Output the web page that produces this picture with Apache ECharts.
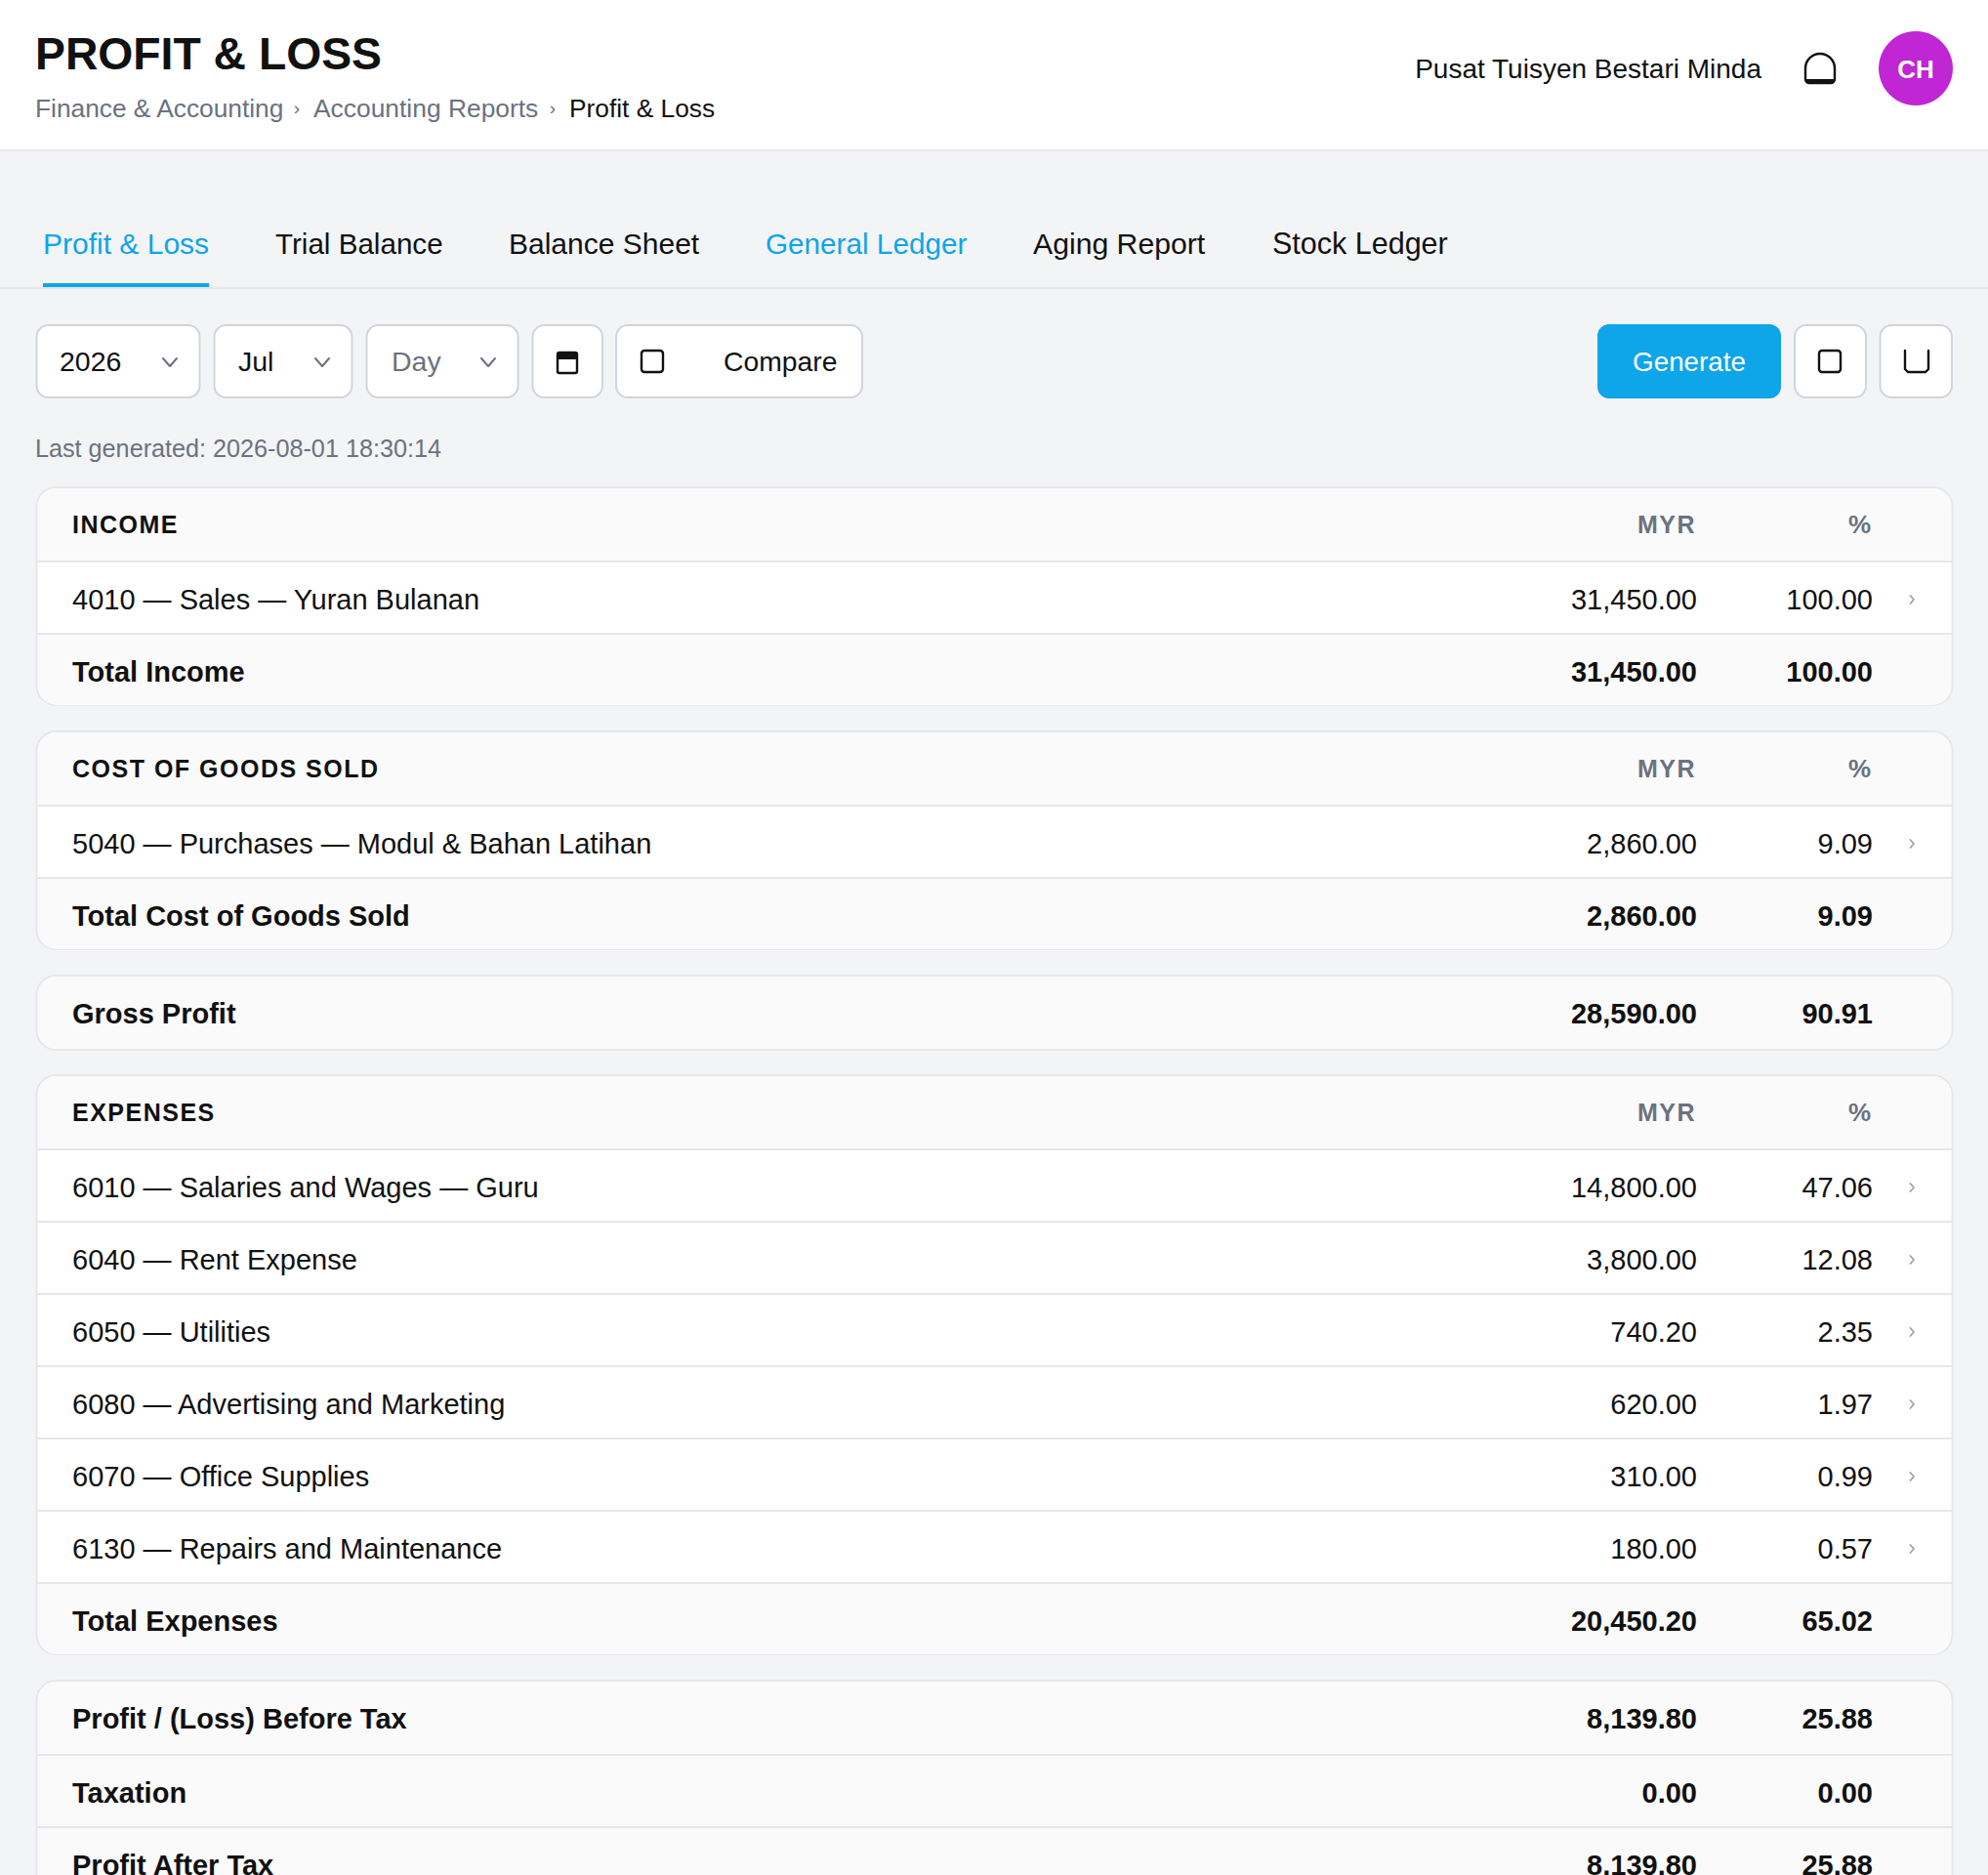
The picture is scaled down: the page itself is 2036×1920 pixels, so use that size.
<!DOCTYPE html>
<html>
<head>
<meta charset="utf-8">
<title>Profit &amp; Loss</title>
<style>
  html, body { margin: 0; padding: 0; background: #f3f4f6; }
  #main { width: 2036px; height: 1920px; }
  /* zrender has no letterSpacing, the section headings are the only 25.01px text */
  #main svg text[style*="25.01px"] { letter-spacing: 1.5px; }
</style>
<script src="https://cdn.jsdelivr.net/npm/echarts@6/dist/echarts.min.js"></script>
</head>
<body>
<div id="main"></div>
<script>
var pageTitle = 'PROFIT & LOSS';
var crumbs = ['Finance & Accounting', 'Accounting Reports', 'Profit & Loss'];
var orgName = 'Pusat Tuisyen Bestari Minda';
var userInitials = 'CH';
var tabs = ['Profit & Loss', 'Trial Balance', 'Balance Sheet', 'General Ledger', 'Aging Report', 'Stock Ledger'];
var filters = ['2026', 'Jul', 'Day'];
var lastGenerated = 'Last generated: 2026-08-01 18:30:14';

var incomeLabels = ['4010 — Sales — Yuran Bulanan'];
var incomeAmounts = [31450.00];
var incomePercents = [100.00];

var cogsLabels = ['5040 — Purchases — Modul & Bahan Latihan'];
var cogsAmounts = [2860.00];
var cogsPercents = [9.09];

var expenseLabels = [
  '6010 — Salaries and Wages — Guru',
  '6040 — Rent Expense',
  '6050 — Utilities',
  '6080 — Advertising and Marketing',
  '6070 — Office Supplies',
  '6130 — Repairs and Maintenance'
];
var expenseAmounts = [14800.00, 3800.00, 740.20, 620.00, 310.00, 180.00];
var expensePercents = [47.06, 12.08, 2.35, 1.97, 0.99, 0.57];

var summaryLabels = ['Profit / (Loss) Before Tax', 'Taxation', 'Profit After Tax'];
var summaryAmounts = [8139.80, 0.00, 8139.80];
var summaryPercents = [25.88, 0.00, 25.88];

var FONT = 'Liberation Sans';
var INK = '#111111';
var GREY = '#6b7280';
var BLUE = '#0ea5e9';
var LINE = '#e5e7eb';
var SOFT = '#fafafa';
var CTRL = '#d1d5db';

var items = [];

function money(v) {
  return v.toFixed(2).replace(/\B(?=(\d{3})+(?!\d))/g, ',');
}

function text(str, x, y, size, weight, color, align) {
  items.push({
    type: 'text', x: x, y: y, silent: true,
    style: {
      text: str, fontFamily: FONT, fontSize: size, fontWeight: weight, fill: color,
      align: align || 'left', verticalAlign: 'middle',
      textAlign: align || 'left', textVerticalAlign: 'middle'
    }
  });
}

function box(x, y, w, h, fill, stroke, r, lw) {
  items.push({
    type: 'rect', silent: true,
    shape: { x: x, y: y, width: w, height: h, r: r || 0 },
    style: { fill: fill, stroke: stroke || null, lineWidth: lw || 0 }
  });
}

function stroke(points, color, lw) {
  items.push({
    type: 'polyline', silent: true,
    shape: { points: points },
    style: { fill: null, stroke: color, lineWidth: lw, lineCap: 'round', lineJoin: 'round' }
  });
}

function chevronDown(cx, cy) {
  stroke([[cx - 7, cy - 4], [cx, cy + 4], [cx + 7, cy - 4]], '#6b7280', 2);
}

function chevronRight(cx, cy) {
  stroke([[cx - 1.5, cy - 4], [cx + 2, cy], [cx - 1.5, cy + 4]], '#9ca3af', 1.8);
}

function hline(y) {
  box(38, y, 1961, 2, LINE);
}

// ---- page header
box(0, 0, 2036, 154, '#ffffff');
box(0, 153, 2036, 2, LINE);
text(pageTitle, 36, 55, 46.3, 700, INK);
text(crumbs[0], 36, 111, 26.3, 400, GREY);
text('›', 304, 110, 19, 400, GREY, 'center');
text(crumbs[1], 321, 111, 26.4, 400, GREY);
text('›', 566, 110, 19, 400, GREY, 'center');
text(crumbs[2], 583, 111, 26.3, 400, INK);

text(orgName, 1804, 70, 28, 400, INK, 'right');
box(1849, 55, 30, 30, '#ffffff', INK, [15, 15, 4, 4], 2.4);
box(1850, 81, 28, 4, INK);
items.push({ type: 'circle', silent: true, shape: { cx: 1962, cy: 70, r: 38 }, style: { fill: '#c026d3' } });
text(userInitials, 1962, 71, 26, 700, '#ffffff', 'center');

// ---- tabs
var tabX = [44, 282, 521, 784, 1058, 1303];
var tabColor = [BLUE, INK, INK, BLUE, INK, INK];
var tabSize = [30, 29.6, 30, 29.7, 30.2, 30.5];
tabs.forEach(function (t, i) { text(t, tabX[i], 249, tabSize[i], 400, tabColor[i]); });
box(0, 294, 2036, 2, LINE);
box(44, 290, 170, 4, BLUE);

// ---- filter bar
var filterX = [37, 219, 375];
var filterW = [168, 142, 156];
var filterTextX = [24, 25, 26];
var filterColor = [INK, INK, GREY];
filters.forEach(function (f, i) {
  box(filterX[i] + 0.5, 333, filterW[i] - 1, 74, '#ffffff', CTRL, 12, 2);
  text(f, filterX[i] + filterTextX[i], 370, 28.5, 400, filterColor[i]);
  chevronDown(filterX[i] + filterW[i] - 31, 371);
});
box(545.5, 333, 71.5, 74, '#ffffff', CTRL, 12, 2);
box(571, 361, 20, 21, '#ffffff', INK, 2, 2.4);
box(571, 361, 20, 7, INK);
box(631, 333, 252, 74, '#ffffff', CTRL, 12, 2);
box(657, 359, 22, 22, '#ffffff', INK, 3, 2.4);
text('Compare', 741, 370, 28.3, 400, INK);

box(1636, 332, 188, 76, BLUE, null, 12);
text('Generate', 1730, 370, 27.8, 400, '#ffffff', 'center');
box(1838, 333, 73, 74, '#ffffff', CTRL, 12, 2);
box(1863, 359, 22, 22, '#ffffff', INK, 3, 2.4);
box(1925.5, 333, 73.5, 74, '#ffffff', CTRL, 12, 2);
stroke([[1951, 359], [1951, 378], [1954, 381], [1972, 381], [1975, 378], [1975, 359]], INK, 2.4);

text(lastGenerated, 36, 459, 25.2, 400, GREY);

// ---- report cards
var AMOUNT_R = 1738;
var PERCENT_R = 1918;
var BODY = 29;

function card(top, bottom) {
  box(37.5, top + 1, 1962, bottom - top - 2, '#ffffff', LINE, 20, 2);
}

function section(top, title, labels, amounts, percents, totalLabel, totalAmount, totalPercent) {
  var bodyTop = top + 76;
  var bottom = bodyTop + (labels.length + 1) * 74 + 1;
  card(top, bottom);
  box(39, top + 2, 1959, 74, SOFT, null, [19, 19, 0, 0]);
  hline(bodyTop);
  text(title, 74, top + 39, 25.01, 700, INK);
  text('MYR', AMOUNT_R - 1, top + 39, 25.01, 700, GREY, 'right');
  text('%', PERCENT_R - 2, top + 39, 26, 700, GREY, 'right');
  labels.forEach(function (label, i) {
    var y = bodyTop + i * 74;
    text(label, 74, y + 39.5, BODY, 400, INK);
    text(money(amounts[i]), AMOUNT_R, y + 39.5, BODY, 400, INK, 'right');
    text(money(percents[i]), PERCENT_R, y + 39.5, BODY, 400, INK, 'right');
    chevronRight(1958, y + 40);
    hline(y + 74);
  });
  var ty = bodyTop + labels.length * 74;
  box(39, ty + 2, 1959, 72, SOFT, null, [0, 0, 19, 19]);
  text(totalLabel, 74, ty + 39.5, BODY, 700, INK);
  text(money(totalAmount), AMOUNT_R, ty + 39.5, BODY, 700, INK, 'right');
  text(money(totalPercent), PERCENT_R, ty + 39.5, BODY, 700, INK, 'right');
}

section(498, 'INCOME', incomeLabels, incomeAmounts, incomePercents, 'Total Income', 31450.00, 100.00);
section(748, 'COST OF GOODS SOLD', cogsLabels, cogsAmounts, cogsPercents, 'Total Cost of Goods Sold', 2860.00, 9.09);

card(998, 1076);
box(39, 1000, 1959, 74, SOFT, null, 19);
text('Gross Profit', 74, 1038, BODY, 700, INK);
text(money(28590.00), AMOUNT_R, 1038, BODY, 700, INK, 'right');
text(money(90.91), PERCENT_R, 1038, BODY, 700, INK, 'right');

section(1100, 'EXPENSES', expenseLabels, expenseAmounts, expensePercents, 'Total Expenses', 20450.20, 65.02);

// last card runs off the bottom of the page
card(1720, 2000);
box(39, 1722, 1959, 300, SOFT, null, [19, 19, 0, 0]);
var summaryY = [1760, 1836, 1910];
summaryLabels.forEach(function (label, i) {
  text(label, 74, summaryY[i], BODY, 700, INK);
  text(money(summaryAmounts[i]), AMOUNT_R, summaryY[i], BODY, 700, INK, 'right');
  text(money(summaryPercents[i]), PERCENT_R, summaryY[i], BODY, 700, INK, 'right');
});
hline(1796);
hline(1870);

var chart = echarts.init(document.getElementById('main'), null, { renderer: 'svg' });
chart.setOption({
  backgroundColor: '#f3f4f6',
  animation: false,
  graphic: { elements: items }
});
</script>
</body>
</html>
